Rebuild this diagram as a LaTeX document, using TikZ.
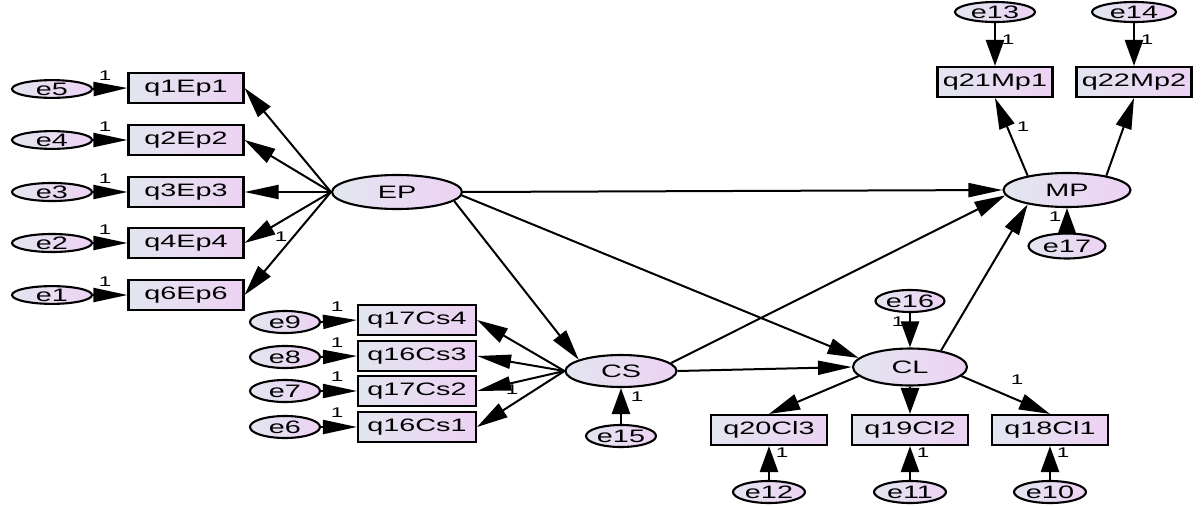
\documentclass[tikz,border=0pt]{standalone}
\usepackage{fontspec}
\newfontfamily\amos[FakeStretch=1.6]{Liberation Sans}
\usetikzlibrary{arrows.meta,shapes.geometric}
\definecolor{gA}{RGB}{226,230,240}
\definecolor{gB}{RGB}{237,210,243}
\begin{document}
\begin{tikzpicture}[x=1pt,y=-1pt,
  base/.style={draw=black,line width=2.1pt,left color=gA,right color=gB,inner sep=0pt,font=\amos\fontsize{18}{18}\selectfont},
  obs/.style={base,rectangle,minimum width=115pt,minimum height=30pt},
  lat/.style={base,ellipse},
  err/.style={base,ellipse,minimum width=72pt,minimum height=22pt},
  errL/.style={base,ellipse,minimum width=80pt,minimum height=16pt},
  lbl/.style={font=\amos\fontsize{14}{14}\selectfont,inner sep=0pt},
  edge/.style={line width=2pt},
  ha/.style={edge,-{Triangle[length=34pt,width=14pt]}},
  va/.style={edge,line width=2.6pt,-{Triangle[length=26pt,width=18pt]}},
  da/.style={edge,-{Triangle[length=31pt,width=16pt]}}]
\useasboundingbox (0,0) rectangle (1203,506);

% latent variables
\node[lat,minimum width=130pt,minimum height=34pt] (EP) at (397,192) {EP};
\node[lat,minimum width=111pt,minimum height=32pt] (CS) at (621,371) {CS};
\node[lat,minimum width=114pt,minimum height=37pt] (CL) at (910,367) {CL};
\node[lat,minimum width=127pt,minimum height=34pt] (MP) at (1067,190) {MP};

% EP indicators
\node[obs] (q1) at (186,88) {q1Ep1};
\node[obs] (q2) at (186,140) {q2Ep2};
\node[obs] (q3) at (186,192) {q3Ep3};
\node[obs] (q4) at (186,243) {q4Ep4};
\node[obs] (q6) at (186,295) {q6Ep6};
\node[errL] (e5) at (52,89) {e5};
\node[errL] (e4) at (52,140) {e4};
\node[errL] (e3) at (52,192) {e3};
\node[errL] (e2) at (52,243) {e2};
\node[errL] (e1) at (52,295) {e1};

% CS indicators
\node[obs,minimum width=118pt] (c4) at (417,320) {q17Cs4};
\node[obs,minimum width=118pt] (c3) at (417,356) {q16Cs3};
\node[obs,minimum width=118pt] (c2) at (417,391) {q17Cs2};
\node[obs,minimum width=118pt] (c1) at (417,427) {q16Cs1};
\node[err,minimum width=70pt] (e9) at (285,322) {e9};
\node[err,minimum width=70pt] (e8) at (285,357) {e8};
\node[err,minimum width=70pt] (e7) at (285,391) {e7};
\node[err,minimum width=70pt] (e6) at (285,427) {e6};
\node[err,minimum width=70pt] (e15) at (621,436) {e15};

% CL indicators
\node[obs,minimum width=116pt] (l3) at (769,430) {q20Cl3};
\node[obs,minimum width=116pt] (l2) at (910,430) {q19Cl2};
\node[obs,minimum width=116pt] (l1) at (1050,430) {q18Cl1};
\node[err] (e12) at (769,492) {e12};
\node[err] (e11) at (910,492) {e11};
\node[err] (e10) at (1050,492) {e10};
\node[err,minimum width=69pt] (e16) at (910,301) {e16};

% MP indicators
\node[obs] (m1) at (995,82) {q21Mp1};
\node[obs] (m2) at (1134,82) {q22Mp2};
\node[err,minimum width=80pt,minimum height=20pt] (e13) at (995,12) {e13};
\node[err,minimum width=84pt,minimum height=20pt] (e14) at (1134,12) {e14};
\node[err,minimum width=77pt,minimum height=25pt] (e17) at (1067,246) {e17};

% error arrows
\foreach \e/\q in {e5/q1,e4/q2,e3/q3,e2/q4,e1/q6,e9/c4,e8/c3,e7/c2,e6/c1}
  \draw[ha] (\e.east) -- (\q.west);
\foreach \e/\q in {e12/l3,e11/l2,e10/l1,e17/MP}
  \draw[va] (\e.north) -- (\q.south);
\foreach \e/\q in {e13/m1,e14/m2,e16/CL}
  \draw[va] (\e.south) -- (\q.north);
\draw[va] (e15.north) -- (CS.south);

% loadings
\draw[da] (EP.west) -- (q1.east);
\draw[da] (EP.west) -- (q2.east);
\draw[ha] (EP.west) -- (q3.east);
\draw[da] (EP.west) -- (q4.east);
\draw[da] (EP.west) -- (q6.east);
\draw[da] (CS.west) -- (c4.east);
\draw[ha] (CS.west) -- (c3.east);
\draw[ha] (CS.west) -- (c2.east);
\draw[da] (CS.west) -- (c1.east);
\draw[da] (CL.190) -- (l3.north);
\draw[va] (CL.south) -- (l2.north);
\draw[da] (CL.-10) -- (l1.north);
\draw[da] (MP.160) -- (m1.south);
\draw[da] (MP.20) -- (m2.south);

% structural paths
\draw[ha] (EP.east) -- (MP.west);
\draw[da] (EP.-9) -- (CS.165);
\draw[da] (EP.-3) -- (CL.170);
\draw[da] (CS.9) -- (MP.185);
\draw[ha] (CS.east) -- (CL.west);
\draw[da] (CL.28) -- (MP.200);

% fixed-parameter labels
\foreach \x/\y/\n in {105/76/a1,105/127/a2,105/179/a3,105/230/a4,105/282/a5,
  337/307/b1,337/343/b2,337/377/b3,337/413/b4,281/237/c1l,512/390/c2l,637/397/c3l,
  898/322/d1,1017/380/d2,782/453/d3,923/453/d4,1063/453/d5,
  1008/40/f1,1147/40/f2,1023/127/f3,1055/217/f4}
  \node[lbl] (\n) at (\x,\y) {1};
\end{tikzpicture}
\end{document}
